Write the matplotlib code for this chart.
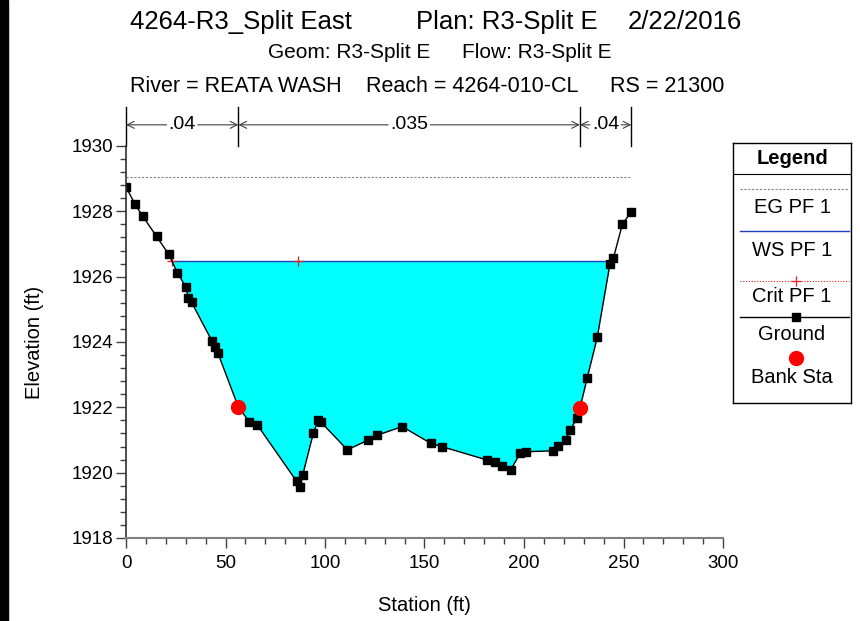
import numpy as np
import matplotlib
matplotlib.use('Agg')
import matplotlib.pyplot as plt
from matplotlib import font_manager
from matplotlib.patches import Rectangle
from matplotlib.ticker import MultipleLocator

# ground points
station = [0, 4.5, 8.4, 15.4, 21.5, 25.8, 30.2, 31.2, 33.0, 43.2, 44.7, 46.2,
           56.5, 62.0, 66.0, 85.8, 87.4, 88.8, 94.1, 96.6, 97.8, 111.2, 121.8,
           126.3, 138.8, 153.1, 158.6, 181.3, 185.4, 188.8, 193.3, 198.0, 201.0,
           214.7, 217.3, 221.1, 223.1, 226.8, 228.1, 231.8, 236.8, 243.2, 244.9,
           249.4, 253.9]
elevation = [1928.75, 1928.22, 1927.85, 1927.23, 1926.68, 1926.12, 1925.67,
             1925.36, 1925.21, 1924.03, 1923.85, 1923.66, 1922.0, 1921.56,
             1921.46, 1919.73, 1919.55, 1919.93, 1921.2, 1921.61, 1921.56,
             1920.7, 1921.0, 1921.15, 1921.41, 1920.9, 1920.8, 1920.39, 1920.34,
             1920.2, 1920.08, 1920.59, 1920.64, 1920.67, 1920.82, 1921.0,
             1921.31, 1921.67, 1921.97, 1922.91, 1924.14, 1926.39, 1926.56,
             1927.6, 1927.99]
bank_sta = [56.5, 228.1]
bank_elev = [1922.0, 1921.97]
ws_elev = 1926.48
eg_elev = 1929.05
crit_sta = [23.2, 86.5, 244.0]
n_breaks = [0, 56.5, 228.1, 253.9]
n_values = ['.04', '.035', '.04']

plt.rcParams['font.family'] = ['Liberation Sans', 'DejaVu Sans']

W, H = 860, 621
def fx(px):
    return px / W
def fy(py):
    return 1 - py / H

fig = plt.figure(figsize=(8.6, 6.21), dpi=100)
ax = fig.add_axes([fx(126), fy(538), 597 / W, 392 / H])

# titles
fig.text(fx(130), fy(22), '4264-R3_Split East', fontsize=18.5, va='center')
fig.text(fx(416), fy(22), 'Plan: R3-Split E', fontsize=18.5, va='center')
fig.text(fx(742), fy(22), '2/22/2016', fontsize=18.5, va='center', ha='right')
fig.text(fx(268), fy(53), 'Geom: R3-Split E', fontsize=15, va='center')
fig.text(fx(612), fy(53), 'Flow: R3-Split E', fontsize=15, va='center',
         ha='right')
fig.text(fx(130), fy(87), 'River = REATA WASH', fontsize=15.5, va='center')
fig.text(fx(366), fy(87), 'Reach = 4264-010-CL', fontsize=15.5, va='center')
fig.text(fx(724), fy(87), 'RS = 21300', fontsize=15.5, va='center', ha='right')

sta = np.array(station)
elv = np.array(elevation)

# wetted area
ax.fill_between(sta, elv, ws_elev, where=elv <= ws_elev, interpolate=True,
                color='#00ffff', lw=0)

# water surface limits
wet = np.where(elv <= ws_elev)[0]
i0, i1 = wet[0], wet[-1]
xl = np.interp(ws_elev, [elv[i0], elv[i0 - 1]], [sta[i0], sta[i0 - 1]])
xr = np.interp(ws_elev, [elv[i1], elv[i1 + 1]], [sta[i1], sta[i1 + 1]])

ax.plot([sta[0], sta[-1]], [eg_elev, eg_elev], color='#808080', lw=0.8,
        ls=(0, (2, 1.5)))
ax.plot([xl, xr], [ws_elev, ws_elev], color='#2040c0', lw=1)
ax.plot(crit_sta, [ws_elev] * len(crit_sta), ls='none', marker='+', ms=7,
        mew=0.9, color='#e02020')
ax.plot(station, elevation, color='k', lw=1, marker='s', ms=6.3)
ax.plot(bank_sta, bank_elev, ls='none', marker='o', ms=10, color='#ff0000',
        mec='#ff0000')

ax.set_xlim(0, 300)
ax.set_ylim(1918, 1930)
ax.set_xticks(range(0, 301, 50))
ax.set_yticks(range(1918, 1931, 2))
ax.xaxis.set_minor_locator(MultipleLocator(10))
ax.yaxis.set_minor_locator(MultipleLocator(0.4))
ax.tick_params(which='major', length=7, width=1, color='#404040',
               labelsize=13.5)
ax.tick_params(axis='x', which='major', pad=5)
ax.tick_params(axis='y', which='major', pad=2)
ax.tick_params(which='minor', length=4, width=1, color='#404040')
for s in ['top', 'right']:
    ax.spines[s].set_visible(False)
ax.spines['left'].set_color('#303030')
ax.spines['bottom'].set_color('#808080')
ax.spines['left'].set_linewidth(1.2)
ax.spines['bottom'].set_linewidth(1.5)

ax.set_xlabel('Station (ft)', fontsize=14.5)
ax.set_ylabel('Elevation (ft)', fontsize=14.5)
ax.xaxis.set_label_coords(0.5, -0.148)
ax.yaxis.set_label_coords(-0.137, 0.5)

# Manning's n bar above the plot
tr = ax.get_xaxis_transform()
y_arrow = 1.054
for xb in n_breaks:
    ax.plot([xb, xb], [1.0, 1.10], transform=tr, color='k', lw=1,
            clip_on=False)
fig.canvas.draw()
inv = ax.transData.inverted()
for j, label in enumerate(n_values):
    a, b = n_breaks[j], n_breaks[j + 1]
    t = ax.text((a + b) / 2, y_arrow, label, transform=tr, ha='center',
                va='center', fontsize=14)
    bb = t.get_window_extent(fig.canvas.get_renderer())
    left = inv.transform((bb.x0 - 2, 0))[0]
    right = inv.transform((bb.x1 + 2, 0))[0]
    for x_from, x_to in [(left, a), (right, b)]:
        ax.annotate('', xy=(x_to, y_arrow), xytext=(x_from, y_arrow),
                    xycoords=tr, textcoords=tr,
                    arrowprops=dict(arrowstyle='->,head_length=0.5,head_width=0.25',
                                    color='#404040', lw=0.8,
                                    shrinkA=0, shrinkB=0))

# legend box drawn in pixel coordinates
lax = fig.add_axes([fx(733), fy(403), 118 / W, 260 / H])
lax.set_xlim(733, 851)
lax.set_ylim(403, 143)
lax.set_xticks([])
lax.set_yticks([])
for s in lax.spines.values():
    s.set_color('k')
    s.set_linewidth(1)
lx = [740, 849]
cx = 792
lfs = 14.5
lax.text(cx, 159, 'Legend', ha='center', va='center', fontsize=lfs,
         fontweight='bold')
lax.plot([733, 851], [174, 174], color='k', lw=0.8)
lax.plot(lx, [189, 189], color='#808080', lw=0.8, ls=(0, (2, 1.5)))
lax.text(cx, 208, 'EG PF 1', ha='center', va='center', fontsize=lfs)
lax.plot(lx, [231, 231], color='#2040c0', lw=1)
lax.text(cx, 251, 'WS PF 1', ha='center', va='center', fontsize=lfs)
lax.plot(lx, [281, 281], color='#e02020', lw=0.8, ls=(0, (1, 1.5)))
lax.plot([cx + 4], [281], marker='+', color='#e02020', ms=7, mew=0.9)
lax.text(cx, 297, 'Crit PF 1', ha='center', va='center', fontsize=lfs)
lax.plot(lx, [317, 317], color='k', lw=1)
lax.plot([cx + 4], [317], marker='s', color='k', ms=6.3)
lax.text(cx, 335, 'Ground', ha='center', va='center', fontsize=lfs)
lax.plot([cx + 4], [358], marker='o', color='#ff0000', ms=10)
lax.text(cx, 378, 'Bank Sta', ha='center', va='center', fontsize=lfs)

# black border strip on the left edge
fig.patches.append(Rectangle((0, 0), 8 / W, 1, transform=fig.transFigure,
                             color='k', zorder=10))

fig.savefig('out.png', dpi=100)
